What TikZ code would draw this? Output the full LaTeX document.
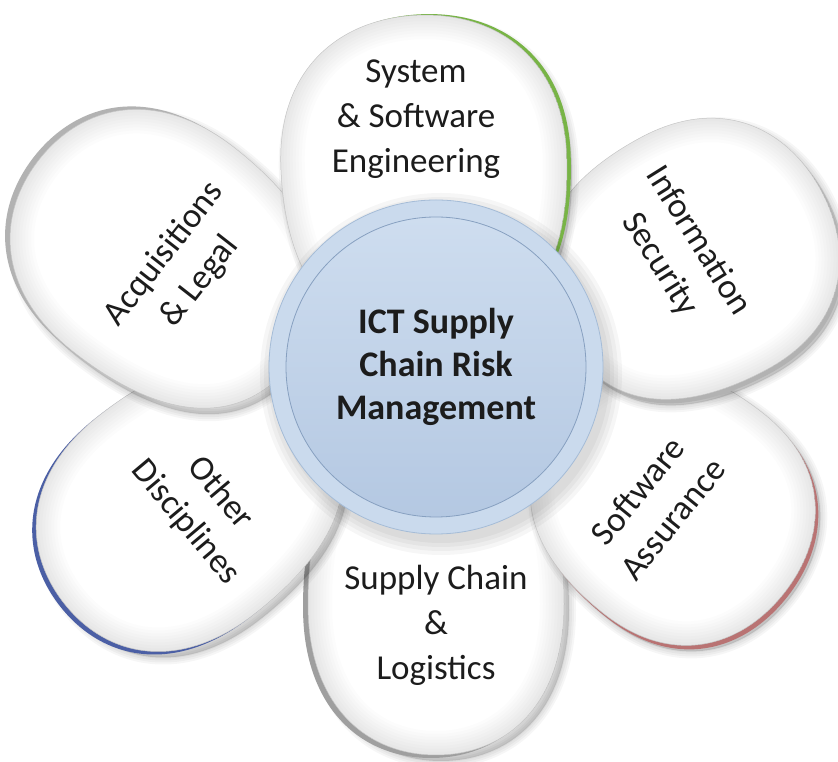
\documentclass[tikz,border=0pt]{standalone}
\usepackage{fontspec}
\setmainfont{Carlito}
\usepackage{tikz}

\definecolor{ink}{RGB}{28,28,28}
\definecolor{ringblue}{RGB}{202,218,237}
\definecolor{ringline}{RGB}{165,188,215}
\definecolor{disctop}{RGB}{206,221,239}
\definecolor{discbottom}{RGB}{180,200,226}
\definecolor{discline}{RGB}{135,160,192}
\definecolor{leafgreen}{RGB}{120,180,70}
\definecolor{leafred}{RGB}{185,115,115}
\definecolor{leafblue}{RGB}{75,95,165}

\tikzset{
  petaltext/.style={align=center, text=ink, inner sep=0pt,
    font=\fontsize{35}{45}\selectfont},
  hubring/.style={circle, fill=ringblue, draw=ringline, line width=0.8pt,
    minimum size=334pt, inner sep=0pt},
  hubdisc/.style={circle, top color=disctop, bottom color=discbottom,
    draw=discline, line width=0.8pt, minimum size=300pt, inner sep=0pt,
    align=center, text=ink, font=\fontsize{36}{43}\selectfont\bfseries}
}

% egg shaped petal, tip at the origin, pointing along x
% #1 length, #2 half width
\newcommand{\petalpath}[2]{(0,0) .. controls (0,0.75*#2) and (0.25*#1,#2) .. (0.55*#1,#2)
  .. controls (0.85*#1,#2) and (#1,0.55*#2) .. (#1,0)
  .. controls (#1,-0.55*#2) and (0.85*#1,-#2) .. (0.55*#1,-#2)
  .. controls (0.25*#1,-#2) and (0,-0.75*#2) .. cycle}

% #1 tip, #2 angle, #3 length, #4 half width, #5 rim colour, #6 rim offset
\newcommand{\drawpetal}[6]{%
  \begin{scope}[shift={#1}]
    % soft shadow
    \foreach \b in {14,10,6,2}
      \filldraw[black, opacity=0.035, line width=\b pt, line join=round,
        shift={(5,-6)}, rotate=#2] \petalpath{#3}{#4};
    % coloured rim
    \fill[#5, shift={#6}, rotate=#2] \petalpath{#3}{#4};
    \begin{scope}[rotate=#2]
      \clip \petalpath{#3}{#4};
      \fill[white] \petalpath{#3}{#4};
      \foreach \b in {48,42,...,6}
        \draw[gray, opacity=0.025, line width=\b pt] \petalpath{#3}{#4};
    \end{scope}
    \draw[gray!45, line width=0.5pt, rotate=#2] \petalpath{#3}{#4};
  \end{scope}}

\begin{document}
\begin{tikzpicture}[x=1pt, y=1pt]
\path[use as bounding box, fill=white] (0,0) rectangle (838,762);

% petals, back to front
\drawpetal{(436,342)}{-90}{335}{128}{gray!75}{(-5,-3)}
\drawpetal{(560,345)}{-38}{285}{128}{leafred}{(3,-4)}
\drawpetal{(316,356)}{-142}{320}{126}{leafblue}{(-4,-3)}
\drawpetal{(560,432)}{28}{296}{132}{gray!60}{(3,-4)}
\drawpetal{(295,402)}{142}{325}{130}{gray!60}{(-5,3)}
\drawpetal{(430,422)}{92}{325}{143}{leafgreen}{(4,1)}

% shadow of the hub
\foreach \b in {14,10,6,2}
  \fill[black, opacity=0.035] (441,388) circle (167+\b);

\node[hubring] (hub) at (436,395) {};
\node[hubdisc] (hubtext) at (hub) {ICT Supply\\Chain Risk\\Management};

% petal labels
\node[petaltext] (syseng) at (416,643) {System\\\& Software\\Engineering};
\node[petaltext, rotate=-58] (infosec) at (679,509) {Information\\Security};
\node[petaltext, rotate=51] (swassure) at (655,257) {Software\\Assurance};
\node[petaltext] (supplychain) at (436,137) {Supply Chain\\\&\\Logistics};
\node[petaltext, rotate=-50] (otherdisc) at (203,254) {Other\\Disciplines};
\node[petaltext, rotate=52] (acqlegal) at (182,494) {Acquisitions\\\& Legal};
\end{tikzpicture}
\end{document}
